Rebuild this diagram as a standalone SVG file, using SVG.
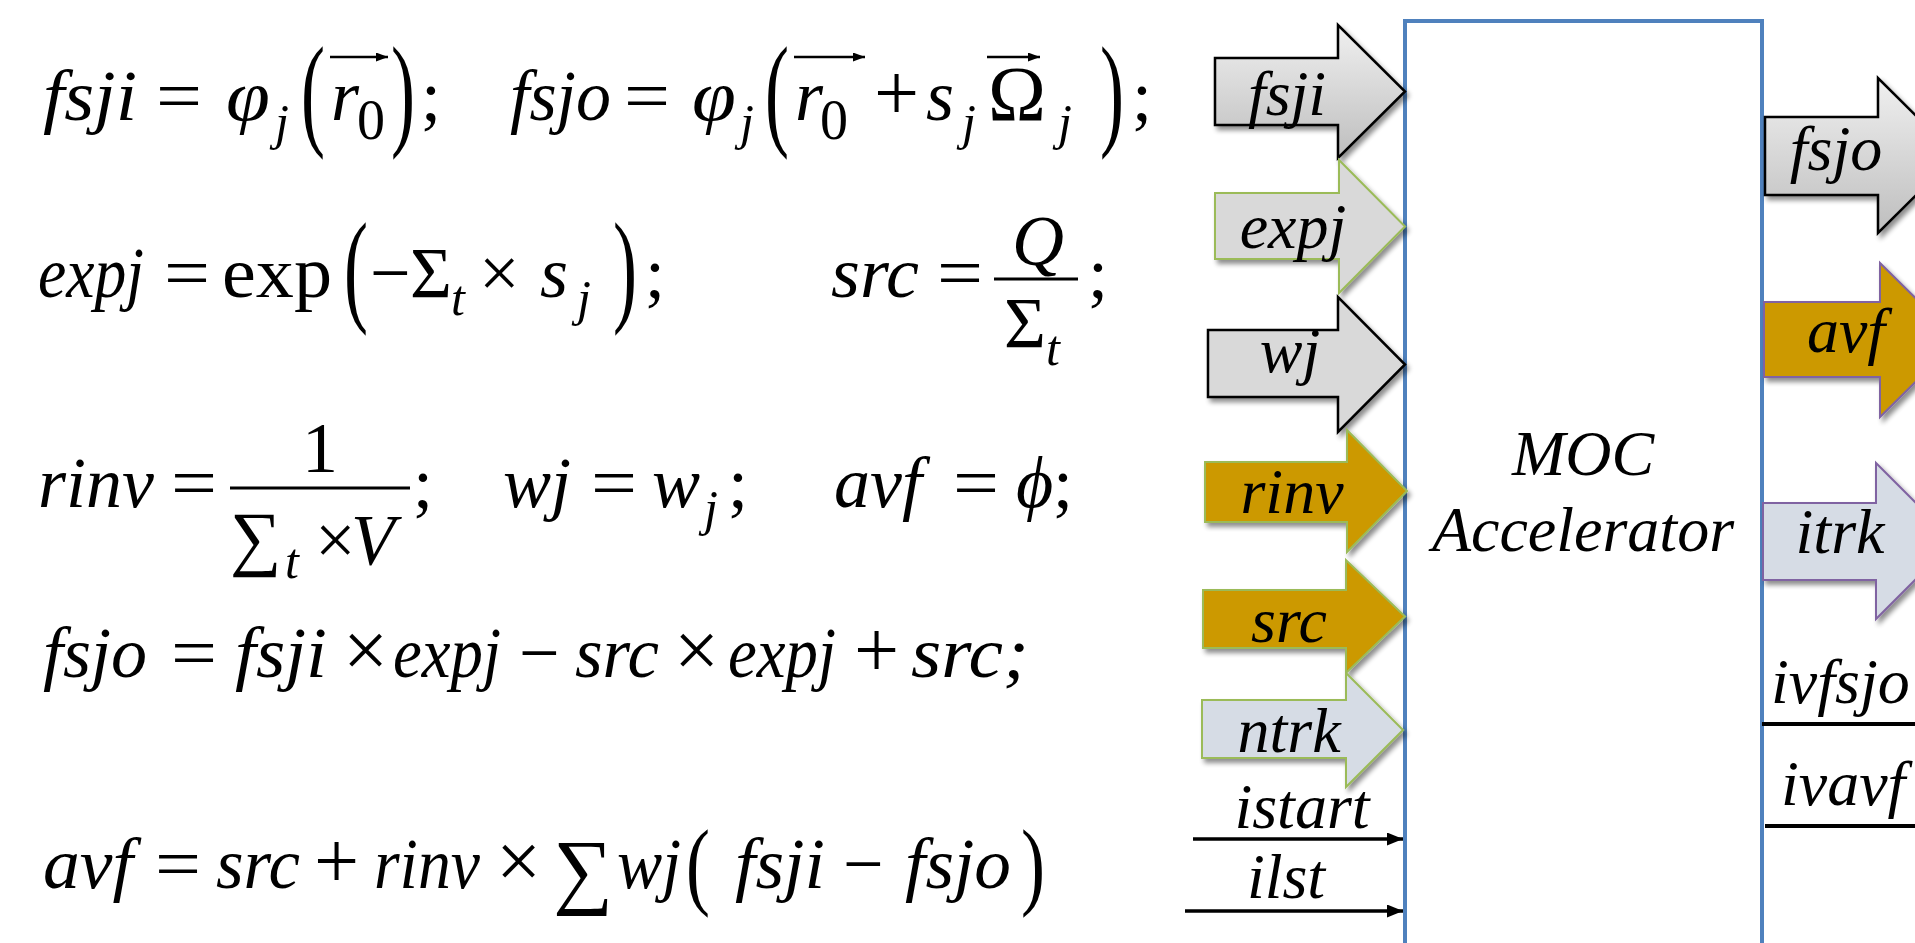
<svg xmlns="http://www.w3.org/2000/svg" width="1915" height="943" viewBox="0 0 1915 943">
<defs>
<style>
.eq{font-family:"Liberation Serif","Times New Roman","DejaVu Serif",serif;font-size:72px;font-style:italic;fill:#000}
.up{font-style:normal}
.op2{font-size:80px;font-style:normal}
.sub{font-size:50px}
.sub0{font-size:56px;font-style:normal}
.lbl{font-family:"Liberation Serif","Times New Roman",serif;font-size:64px;font-style:italic;text-anchor:middle;fill:#000}
.st{text-anchor:start}
.bt{font-family:"Liberation Serif","Times New Roman",serif;font-size:64px;font-style:italic;text-anchor:middle;fill:#000}
.vec{stroke:#000;stroke-width:2.5;fill:none}
.bar{stroke:#000;stroke-width:3}
.blk{stroke:#000;stroke-width:2.5}
.grn{stroke:#9BBB59;stroke-width:2}
.pur{stroke:#8064A2;stroke-width:2}
.gray{fill:url(#gGray)}
.lgray{fill:#D9D9D9}
.gold{fill:#CC9900}
.blue{fill:#D6DCE5}
.conn{stroke:#000;stroke-width:3.5;fill:none}
.wire{stroke:#000;stroke-width:4;fill:none}
</style>
<linearGradient id="gGray" x1="0" y1="0" x2="0" y2="1">
<stop offset="0" stop-color="#F0F0F0"/>
<stop offset="1" stop-color="#BEBEBE"/>
</linearGradient>
<filter id="sh" x="-10%" y="-10%" width="130%" height="130%">
<feGaussianBlur in="SourceAlpha" stdDeviation="2.5"/>
<feOffset dx="3" dy="4"/>
<feComponentTransfer><feFuncA type="linear" slope="0.45"/></feComponentTransfer>
<feMerge><feMergeNode/><feMergeNode in="SourceGraphic"/></feMerge>
</filter>
<marker id="va" markerUnits="userSpaceOnUse" markerWidth="12" markerHeight="9" refX="12" refY="4.5" orient="auto"><path d="M0,0 L12,4.5 L0,9 z" fill="#000"/></marker>
<marker id="ah" markerUnits="userSpaceOnUse" markerWidth="16" markerHeight="13" refX="16" refY="6.5" orient="auto"><path d="M0,0 L16,6.5 L0,13 z" fill="#000"/></marker>
</defs>
<rect width="1915" height="943" fill="#fff"/>

<g id="equations">
<!-- line 1 -->
<text class="eq" x="43" y="120" textLength="94" lengthAdjust="spacingAndGlyphs">fsji</text>
<text class="eq up" x="156" y="120" textLength="46" lengthAdjust="spacingAndGlyphs">=</text>
<text class="eq" transform="translate(226,120) scale(1.1,1)">φ</text>
<text class="eq sub" x="275" y="139">j</text>
<text class="eq up" transform="translate(301,133) scale(1,1.73)">(</text>
<text class="eq" x="331" y="120">r</text>
<text class="eq sub0" x="357" y="139">0</text>
<line class="vec" x1="330" y1="57" x2="388" y2="57" marker-end="url(#va)"/>
<text class="eq up" transform="translate(391,133) scale(1,1.73)">)</text>
<text class="eq up" x="421" y="120">;</text>
<text class="eq" x="510" y="120" textLength="101" lengthAdjust="spacingAndGlyphs">fsjo</text>
<text class="eq up" x="624" y="120" textLength="46" lengthAdjust="spacingAndGlyphs">=</text>
<text class="eq" transform="translate(692,120) scale(1.1,1)">φ</text>
<text class="eq sub" x="740" y="139">j</text>
<text class="eq up" transform="translate(765,133) scale(1,1.73)">(</text>
<text class="eq" x="795" y="120">r</text>
<text class="eq sub0" x="820" y="139">0</text>
<line class="vec" x1="794" y1="57" x2="865" y2="57" marker-end="url(#va)"/>
<text class="eq op2" x="874" y="120">+</text>
<text class="eq" x="926" y="120">s</text>
<text class="eq sub" x="962" y="139">j</text>
<text class="eq up" x="988" y="120" style="font-size:78px">Ω</text>
<line class="vec" x1="987" y1="57" x2="1040" y2="57" marker-end="url(#va)"/>
<text class="eq sub" x="1058" y="139">j</text>
<text class="eq up" transform="translate(1100,133) scale(1,1.73)">)</text>
<text class="eq up" x="1132" y="120">;</text>
<!-- line 2 -->
<text class="eq" x="38" y="297" textLength="106" lengthAdjust="spacingAndGlyphs">expj</text>
<text class="eq up" x="164" y="297" textLength="46" lengthAdjust="spacingAndGlyphs">=</text>
<text class="eq up" x="222" y="297" textLength="110" lengthAdjust="spacingAndGlyphs">exp</text>
<text class="eq up" transform="translate(344,309) scale(1,1.73)">(</text>
<text class="eq up" x="370" y="297">−</text>
<text class="eq up" x="410" y="297">Σ</text>
<text class="eq sub" x="451" y="315">t</text>
<text class="eq up" x="479" y="297">×</text>
<text class="eq" x="540" y="297">s</text>
<text class="eq sub" x="577" y="315">j</text>
<text class="eq up" transform="translate(613,309) scale(1,1.73)">)</text>
<text class="eq up" x="645" y="297">;</text>
<text class="eq" x="831" y="297" textLength="88" lengthAdjust="spacingAndGlyphs">src</text>
<text class="eq up" x="937" y="297" textLength="46" lengthAdjust="spacingAndGlyphs">=</text>
<line class="bar" x1="994" y1="279" x2="1078" y2="279"/>
<text class="eq" x="1038" y="265" text-anchor="middle">Q</text>
<text class="eq up" x="1004" y="347">Σ</text>
<text class="eq sub" x="1046" y="365">t</text>
<text class="eq up" x="1088" y="297">;</text>
<!-- line 3 -->
<text class="eq" x="38" y="507" textLength="116" lengthAdjust="spacingAndGlyphs">rinv</text>
<text class="eq up" x="171" y="507" textLength="46" lengthAdjust="spacingAndGlyphs">=</text>
<line class="bar" x1="230" y1="488" x2="410" y2="488"/>
<text class="eq up" x="320" y="472" text-anchor="middle">1</text>
<text class="eq up" x="230" y="562">∑</text>
<text class="eq sub" x="285" y="578">t</text>
<text class="eq up" x="315" y="564">×</text>
<text class="eq" x="351" y="564">V</text>
<text class="eq up" x="413" y="507">;</text>
<text class="eq" x="503" y="507">wj</text>
<text class="eq up" x="591" y="507" textLength="46" lengthAdjust="spacingAndGlyphs">=</text>
<text class="eq" x="652" y="507">w</text>
<text class="eq sub" x="704" y="525">j</text>
<text class="eq up" x="728" y="507">;</text>
<text class="eq" x="834" y="507">avf</text>
<text class="eq up" x="953" y="507" textLength="46" lengthAdjust="spacingAndGlyphs">=</text>
<text class="eq" x="1016" y="507">ϕ</text>
<text class="eq up" x="1053" y="507">;</text>
<!-- line 4 -->
<text class="eq" x="43" y="677" textLength="104" lengthAdjust="spacingAndGlyphs">fsjo</text>
<text class="eq up" x="171" y="677" textLength="46" lengthAdjust="spacingAndGlyphs">=</text>
<text class="eq" x="235" y="677" textLength="92" lengthAdjust="spacingAndGlyphs">fsji</text>
<text class="eq op2" x="343" y="677">×</text>
<text class="eq" x="393" y="677" textLength="108" lengthAdjust="spacingAndGlyphs">expj</text>
<text class="eq up" x="519" y="677">−</text>
<text class="eq" x="575" y="677" textLength="84" lengthAdjust="spacingAndGlyphs">src</text>
<text class="eq op2" x="674" y="677">×</text>
<text class="eq" x="728" y="677" textLength="108" lengthAdjust="spacingAndGlyphs">expj</text>
<text class="eq op2" x="854" y="677">+</text>
<text class="eq" x="911" y="677" textLength="118" lengthAdjust="spacingAndGlyphs">src;</text>
<!-- line 5 -->
<text class="eq" x="43" y="888" textLength="90" lengthAdjust="spacingAndGlyphs">avf</text>
<text class="eq up" x="155" y="888" textLength="46" lengthAdjust="spacingAndGlyphs">=</text>
<text class="eq" x="216" y="888" textLength="84" lengthAdjust="spacingAndGlyphs">src</text>
<text class="eq op2" x="314" y="888">+</text>
<text class="eq" x="374" y="888" textLength="106" lengthAdjust="spacingAndGlyphs">rinv</text>
<text class="eq op2" x="496" y="888">×</text>
<text class="eq up" x="553" y="898" style="font-size:84px">∑</text>
<text class="eq" x="617" y="888" textLength="64" lengthAdjust="spacingAndGlyphs">wj</text>
<text class="eq up" transform="translate(686,897) scale(1,1.35)">(</text>
<text class="eq" x="735" y="888" textLength="90" lengthAdjust="spacingAndGlyphs">fsji</text>
<text class="eq up" x="843" y="888">−</text>
<text class="eq" x="905" y="888" textLength="106" lengthAdjust="spacingAndGlyphs">fsjo</text>
<text class="eq up" transform="translate(1021,897) scale(1,1.35)">)</text>
</g>

<g id="moc-accelerator">
<rect x="1405" y="21" width="357" height="960" fill="#fff" stroke="#4F81BD" stroke-width="4"/>
<text class="bt" x="1583" y="475">MOC</text>
<text class="bt" x="1583" y="551">Accelerator</text>
</g>

<g id="in-fsji">
<path class="gray blk" filter="url(#sh)" d="M1215,58 H1338 V25 L1405,91.5 L1338,158 V125 H1215 Z"/>
<text class="lbl" x="1287" y="115">fsji</text>
</g>
<g id="in-expj">
<path class="lgray grn" filter="url(#sh)" d="M1215,193 H1339 V160 L1405,226.5 L1339,293 V259 H1215 Z"/>
<text class="lbl" x="1293" y="248">expj</text>
</g>
<g id="in-wj">
<path class="lgray blk" filter="url(#sh)" d="M1208,330 H1338 V297 L1405,364.5 L1338,432 V397 H1208 Z"/>
<text class="lbl" x="1290" y="372">wj</text>
</g>
<g id="in-rinv">
<path class="gold grn" filter="url(#sh)" d="M1205,462 H1347 V430 L1407,491 L1347,552 V522 H1205 Z"/>
<text class="lbl" x="1292" y="513">rinv</text>
</g>
<g id="in-src">
<path class="gold grn" filter="url(#sh)" d="M1203,590 H1346 V560 L1405,616.5 L1346,673 V648 H1203 Z"/>
<text class="lbl" x="1289" y="642">src</text>
</g>
<g id="in-ntrk">
<path class="blue grn" filter="url(#sh)" d="M1202,700 H1346 V673 L1403,730 L1346,787 V758 H1202 Z"/>
<text class="lbl" x="1289" y="752">ntrk</text>
</g>
<g id="out-fsjo">
<path class="gray blk" filter="url(#sh)" d="M1765,117 H1878 V78 L1956,155.5 L1878,233 V195 H1765 Z"/>
<text class="lbl" x="1836" y="170">fsjo</text>
</g>
<g id="out-avf">
<path class="gold pur" filter="url(#sh)" d="M1764,302 H1880 V263 L1958,340 L1880,417 V377 H1764 Z"/>
<text class="lbl" x="1846" y="352">avf</text>
</g>
<g id="out-itrk">
<path class="blue pur" filter="url(#sh)" d="M1763,503 H1876 V463 L1954,541 L1876,619 V580 H1763 Z"/>
<text class="lbl" x="1840" y="553">itrk</text>
</g>

<g id="connectors">
<line class="conn" x1="1193" y1="839" x2="1403" y2="839" marker-end="url(#ah)"/>
<line class="conn" x1="1185" y1="911" x2="1403" y2="911" marker-end="url(#ah)"/>
<line class="wire" x1="1762" y1="724" x2="1920" y2="724"/>
<line class="wire" x1="1765" y1="826" x2="1920" y2="826"/>
<text class="lbl" x="1302" y="828">istart</text>
<text class="lbl" x="1286" y="898">ilst</text>
<text class="lbl st" x="1771" y="703">ivfsjo</text>
<text class="lbl st" x="1781" y="805">ivavf</text>
</g>
</svg>
